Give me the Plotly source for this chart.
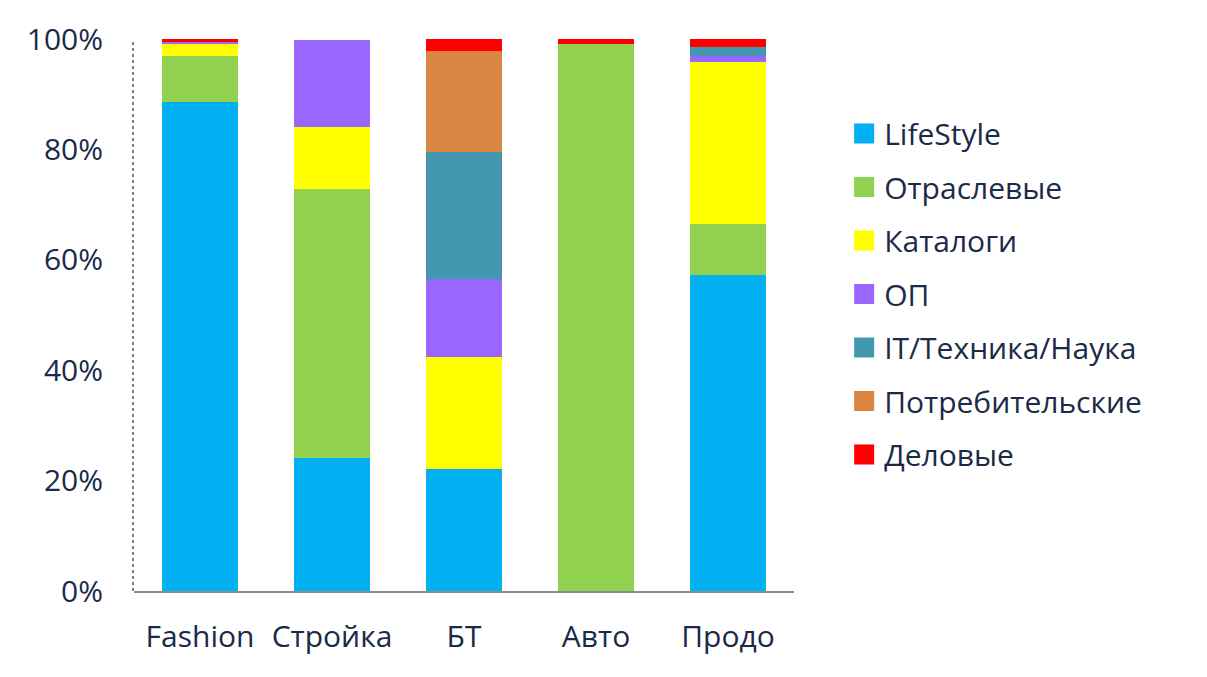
import plotly.graph_objects as go

categories = ["Fashion", "Стройка", "БТ", "Авто", "Продо"]
series_names = ["LifeStyle", "Отраслевые", "Каталоги", "ОП", "IT/Техника/Наука", "Потребительские", "Деловые"]
lifestyle = [88.6, 24.1, 22.1, 0.0, 57.2]
otraslevye = [8.3, 48.7, 0.0, 99.1, 9.2]
katalogi = [2.2, 11.2, 20.3, 0.0, 29.5]
op = [0.4, 15.9, 14.1, 0.0, 1.1]
it_tech = [0.0, 0.0, 23.0, 0.0, 1.5]
potreb = [0.0, 0.0, 18.3, 0.0, 0.0]
delovye = [0.5, 0.0, 2.2, 0.9, 1.5]
series_values = [lifestyle, otraslevye, katalogi, op, it_tech, potreb, delovye]
colors = ["#00B0F0", "#92D050", "#FFFF00", "#9966FF", "#4398AF", "#DA8541", "#FF0000"]
y_ticks = [0, 20, 40, 60, 80, 100]
y_tick_labels = ["0%", "20%", "40%", "60%", "80%", "100%"]

text_color = "#1B2A47"
font_family = "Open Sans, Noto Sans, sans-serif"
fs = 30

fig = go.Figure()
for name, vals, col in zip(series_names, series_values, colors):
    fig.add_trace(go.Bar(x=categories, y=vals, name=name, marker=dict(color=col, line=dict(width=0)),
                         legendgroup=name, showlegend=False, width=0.576))
for name, col in zip(series_names, colors):
    fig.add_trace(go.Scatter(x=[None], y=[None], mode="markers", name=name, legendgroup=name,
                             marker=dict(symbol="square", size=16, color=col, line=dict(color=col, width=4)),
                             showlegend=True))

fig.update_layout(
    barmode="stack",
    width=1199, height=669,
    margin=dict(l=126, r=413, t=31, b=86, autoexpand=False),
    paper_bgcolor="white", plot_bgcolor="white",
    font=dict(family=font_family, size=fs, color=text_color),
    legend=dict(x=1.076, xanchor="left", y=0.876, yanchor="top", yref="paper",
                traceorder="grouped", tracegroupgap=11.5, itemsizing="trace",
                font=dict(size=fs, color=text_color)),
    showlegend=True,
)
fig.update_xaxes(showgrid=False, showline=True, linecolor="#8C8C8C", linewidth=1.5, automargin=False,
                 ticks="", ticklabelstandoff=18, tickfont=dict(size=fs, color=text_color),
                 range=[-0.5, 4.5])
fig.update_yaxes(range=[0, 100], tickvals=y_ticks, ticktext=y_tick_labels, showgrid=False, zeroline=False,
                 automargin=False,
                 showline=False, ticks="", ticklabelstandoff=30, tickfont=dict(size=fs, color=text_color))
fig.add_shape(type="line", xref="paper", yref="paper", x0=-0.0015, x1=-0.0015, y0=0, y1=1,
              line=dict(color="black", width=1, dash="dot"))

fig.write_html("out.html")
